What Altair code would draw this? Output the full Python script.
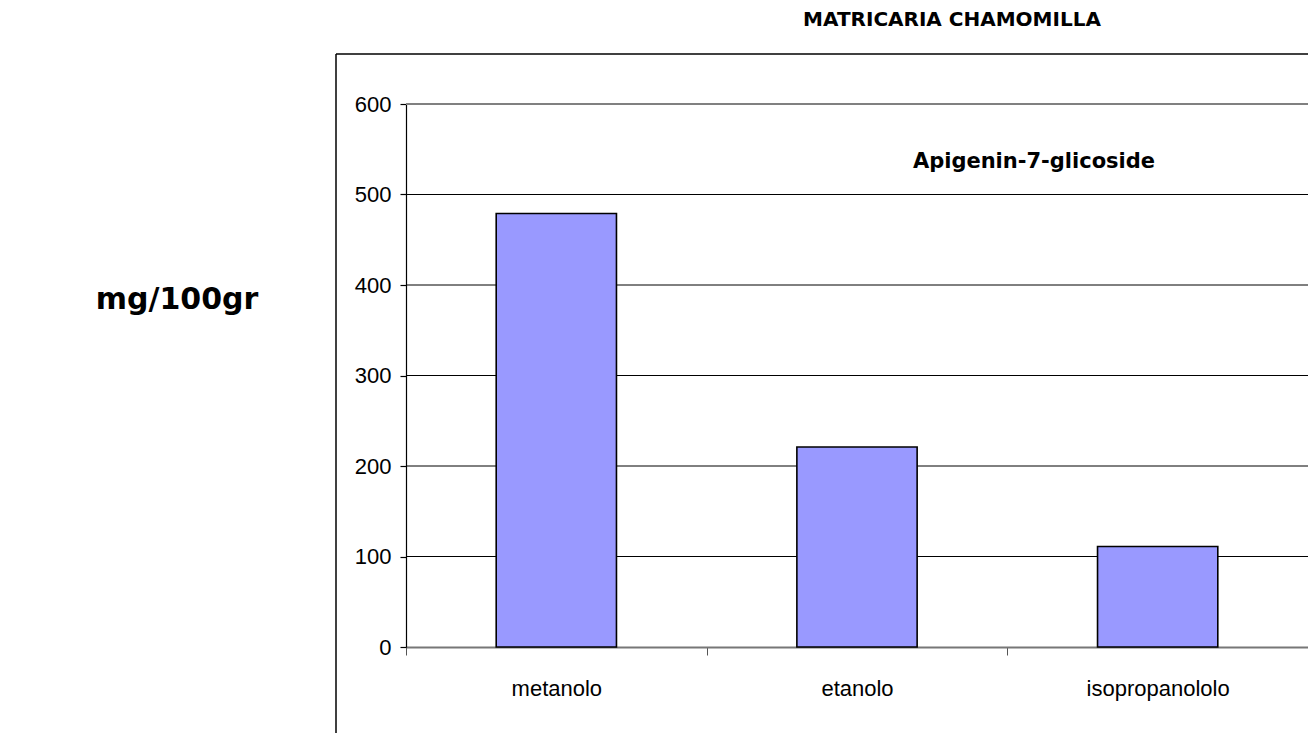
import altair as alt
import pandas as pd

categories = ["metanolo", "etanolo", "isopropanololo"]
values = [479, 221, 111]
grid_values = [100, 200, 300, 400, 500]
y_ticks = [0, 100, 200, 300, 400, 500, 600]

title_text = "MATRICARIA CHAMOMILLA"
ylabel_text = "mg/100gr"
series_text = "Apigenin-7-glicoside"

df = pd.DataFrame({"solvente": categories, "valore": values})
grid_df = pd.DataFrame({"g": grid_values})
top_df = pd.DataFrame({"g": [y_ticks[-1]]})

W, H = 902, 543
SANS = "Liberation Sans Narrow, Arial Narrow, Liberation Sans, Arial, sans-serif"
BOLD = "DejaVu Sans, Verdana, sans-serif"

yscale = alt.Scale(domain=[0, 600], nice=False)
xscale = alt.Scale(domain=categories, paddingInner=0, paddingOuter=0)

yaxis = alt.Axis(title=None, values=y_ticks, grid=False, labelFont=SANS,
                 labelFontSize=22, labelColor="black", labelPadding=9,
                 tickSize=6, tickColor="black", domainColor="black",
                 domainWidth=1.2, tickWidth=1.2)

grid = alt.Chart(grid_df).mark_rule(color="black", strokeWidth=1).encode(
    y=alt.Y("g:Q", scale=yscale, axis=yaxis)
)
top_line = alt.Chart(top_df).mark_rule(color="#808080", strokeWidth=2).encode(
    y=alt.Y("g:Q", scale=yscale, axis=yaxis)
)

bars = alt.Chart(df).mark_bar(
    color="#9999FF", stroke="black", strokeWidth=1.6,
    width=alt.RelativeBandSize(0.4)
).encode(
    x=alt.X("solvente:N", scale=xscale, sort=categories,
            axis=alt.Axis(title=None, labelAngle=0, labelFont=SANS, labelFontSize=22,
                          labelColor="black", labelPadding=23, tickBand="extent",
                          tickSize=8, tickColor="#555555", domainColor="#777777",
                          domainWidth=1.8, labelFontWeight="normal")),
    y=alt.Y("valore:Q", scale=yscale, axis=yaxis),
)

def text_layer(txt, x, y, size):
    return alt.Chart(alt.Data(values=[{"t": txt}])).mark_text(
        font=BOLD, fontWeight="bold", fontSize=size, color="black",
        align="center", baseline="middle"
    ).encode(text="t:N", x=alt.value(x), y=alt.value(y))

title = text_layer(title_text, 546, -84, 20)
ylab = text_layer(ylabel_text, -229, 196, 30)
series = text_layer(series_text, 628, 58, 21)

box_top = alt.Chart(alt.Data(values=[{}])).mark_rule(color="black", strokeWidth=1.5).encode(
    x=alt.value(-70), x2=alt.value(W + 20), y=alt.value(-50)
)
box_left = alt.Chart(alt.Data(values=[{}])).mark_rule(color="black", strokeWidth=1.5).encode(
    x=alt.value(-70), y=alt.value(-50), y2=alt.value(H + 120)
)

chart = alt.layer(grid, top_line, bars, title, ylab, series, box_top, box_left).properties(
    width=W, height=H,
    autosize=alt.AutoSizeParams(type="none"),
    padding={"left": 398, "top": 96, "right": 0, "bottom": 86},
).configure_view(stroke="#777777", strokeWidth=2).configure(background="white")

chart.save("out.html", embed_options={"renderer": "svg", "actions": False})
